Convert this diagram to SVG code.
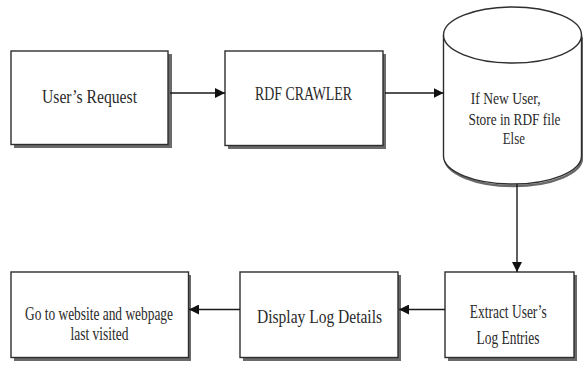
<svg xmlns="http://www.w3.org/2000/svg" width="583" height="365" viewBox="0 0 583 365">
  <style>
    .box { fill: #ffffff; stroke: #2e2e2e; stroke-width: 1.4; }
    .shadow { fill: #6a6a6a; filter: url(#soft); }
    .lbl { font-family: "Liberation Serif", "Times New Roman", serif; font-size: 18px; fill: #2a2a2a; text-anchor: middle; }
    .small { font-size: 16px; }
    .edge { stroke: #1a1a1a; stroke-width: 1.4; fill: none; marker-end: url(#arrow); }
  </style>
  <defs>
    <filter id="soft" x="-5%" y="-5%" width="110%" height="110%">
      <feGaussianBlur stdDeviation="0.6"/>
    </filter>
    <marker id="arrow" viewBox="0 0 10 10" refX="10" refY="5" markerWidth="10" markerHeight="10" markerUnits="userSpaceOnUse" orient="auto">
      <path d="M0,0 L10,5 L0,10 Z" fill="#111111"/>
    </marker>
  </defs>
  <rect width="583" height="365" fill="#ffffff"/>

  <!-- User's Request -->
  <g id="users-request">
    <rect class="shadow" x="14" y="54" width="158" height="94"/>
    <rect class="box" x="11" y="51" width="157" height="93.5"/>
    <text class="lbl" x="89.5" y="103" font-size="21" textLength="95" lengthAdjust="spacingAndGlyphs">User’s Request</text>
  </g>

  <!-- RDF crawler -->
  <g id="rdf-crawler">
    <rect class="shadow" x="228" y="54" width="158" height="95"/>
    <rect class="box" x="225" y="51" width="158" height="94.5"/>
    <text class="lbl" x="303.5" y="100" textLength="97" lengthAdjust="spacingAndGlyphs">RDF CRAWLER</text>
  </g>

  <!-- RDF store (cylinder) -->
  <g id="rdf-store">
    <path d="M445,37 L445,158 A68.5,28 0 0 0 582,158 L582,37" fill="none" stroke="#6a6a6a" stroke-width="2.4" filter="url(#soft)"/>
    <path d="M443.5,35 L443.5,156 A69,28 0 0 0 581.5,156 L581.5,35" class="box"/>
    <ellipse class="box" cx="512.5" cy="35" rx="69" ry="28"/>
    <text class="lbl small" x="505.7" y="104" textLength="70" lengthAdjust="spacingAndGlyphs">If New User,</text>
    <text class="lbl small" x="514.5" y="125" textLength="92" lengthAdjust="spacingAndGlyphs">Store in RDF file</text>
    <text class="lbl small" x="513.8" y="144" textLength="22" lengthAdjust="spacingAndGlyphs">Else</text>
  </g>

  <!-- Extract user's log entries -->
  <g id="extract-log">
    <rect class="shadow" x="448" y="275" width="129" height="86"/>
    <rect class="box" x="445" y="272" width="129" height="85.5"/>
    <text class="lbl" x="508.3" y="318" textLength="77" lengthAdjust="spacingAndGlyphs">Extract User’s</text>
    <text class="lbl" x="508" y="344" textLength="63" lengthAdjust="spacingAndGlyphs">Log Entries</text>
  </g>

  <!-- Display log details -->
  <g id="display-log">
    <rect class="shadow" x="243" y="275" width="158" height="86"/>
    <rect class="box" x="240" y="272" width="158" height="85.5"/>
    <text class="lbl" x="319.5" y="323" textLength="125" lengthAdjust="spacingAndGlyphs">Display Log Details</text>
  </g>

  <!-- Go to last visited page -->
  <g id="goto-last-visited">
    <rect class="shadow" x="14" y="275" width="177" height="86"/>
    <rect class="box" x="11" y="272" width="177.5" height="85.5"/>
    <text class="lbl" x="99" y="320" textLength="148" lengthAdjust="spacingAndGlyphs">Go to website and webpage</text>
    <text class="lbl" x="99.5" y="339.5" textLength="58" lengthAdjust="spacingAndGlyphs">last visited</text>
  </g>

  <!-- Connectors -->
  <g id="connectors">
    <line class="edge" x1="170" y1="93" x2="225" y2="93"/>
    <line class="edge" x1="385" y1="93" x2="443.5" y2="93"/>
    <line class="edge" x1="517" y1="184" x2="517" y2="272"/>
    <line class="edge" x1="445" y1="309.5" x2="399" y2="309.5"/>
    <line class="edge" x1="240" y1="309.5" x2="189" y2="309.5"/>
  </g>
</svg>
